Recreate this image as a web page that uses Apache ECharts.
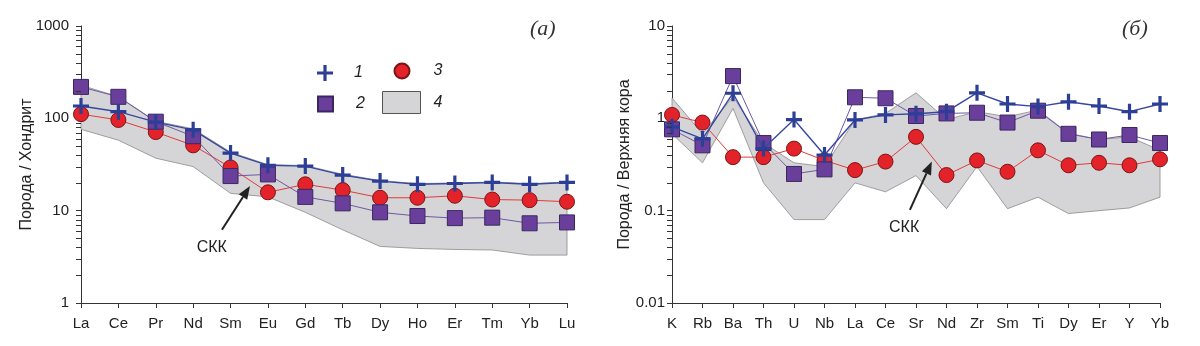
<!DOCTYPE html>
<html>
<head>
<meta charset="utf-8">
<script src="https://cdn.jsdelivr.net/npm/echarts@6/dist/echarts.min.js"></script>
<style>
  html, body { margin: 0; padding: 0; background: #fff; }
  #chart { width: 1200px; height: 346px; }
</style>
</head>
<body>
<div id="chart"></div>
<script>
// Left panel: chondrite-normalised REE
const reeElements = ['La','Ce','Pr','Nd','Sm','Eu','Gd','Tb','Dy','Ho','Er','Tm','Yb','Lu'];
const reeSeries1 = [136, 118, 91, 75, 42, 31, 30.4, 24.3, 20.9, 19.3, 19.7, 20.2, 19.3, 20.2];
const reeSeries2 = [219, 171, 92, 64, 23.7, 24.7, 14.1, 12.0, 9.6, 8.75, 8.3, 8.4, 7.3, 7.46];
const reeSeries3 = [111, 96, 71, 51, 29.4, 15.8, 19.3, 16.7, 13.8, 13.8, 14.5, 13.2, 13.0, 12.5];
const reeFieldLow = [76, 58, 37, 30, 15.4, 14.1, 9.6, 6.2, 4.1, 3.9, 3.8, 3.75, 3.3, 3.3];
const reeFieldHigh = [228, 172, 93, 77, 43, 31.5, 30.8, 24.8, 21.2, 19.6, 20.0, 20.4, 19.6, 20.4];

// Right panel: upper-crust-normalised trace elements
const traceElements = ['K','Rb','Ba','Th','U','Nb','La','Ce','Sr','Nd','Zr','Sm','Ti','Dy','Er','Y','Yb'];
const traceSeries1 = [0.81, 0.6, 1.87, 0.47, 0.97, 0.40, 0.96, 1.09, 1.12, 1.18, 1.89, 1.43, 1.34, 1.51, 1.36, 1.18, 1.43];
const traceSeries2 = [0.76, 0.51, 2.87, 0.54, 0.25, 0.28, 1.69, 1.65, 1.06, 1.13, 1.15, 0.90, 1.21, 0.68, 0.59, 0.66, 0.54];
const traceSeries3 = [1.09, 0.90, 0.38, 0.38, 0.47, 0.35, 0.275, 0.34, 0.63, 0.243, 0.35, 0.264, 0.45, 0.31, 0.33, 0.31, 0.36];
const traceFieldLow = [0.68, 0.33, 1.28, 0.20, 0.08, 0.08, 0.20, 0.16, 0.24, 0.105, 0.30, 0.105, 0.14, 0.093, 0.10, 0.107, 0.14];
const traceFieldHigh = [1.66, 0.68, 1.72, 0.54, 0.33, 0.30, 0.96, 1.13, 1.89, 0.97, 1.18, 1.04, 1.23, 0.69, 0.59, 0.63, 0.45];

// Axis tick labels
const leftTicks = [1, 10, 100, 1000];
const rightTicks = [0.01, 0.1, 1, 10];
const legendNames = ['1', '2', '3', '4'];

const FONT = 'Liberation Sans, Arial, sans-serif';
const TXT = '#222';
const AXIS = '#333';
const PLUS = 'path://M6,0H9V6H15V9H9V15H6V9H0V6H6Z';

const chart = echarts.init(document.getElementById('chart'), null, { renderer: 'canvas' });

// 2..9 times every decade between lo and hi
function decadeMinors(lo, hi) {
  const out = [];
  for (let d = lo; d < hi * 0.999; d *= 10) {
    for (let k = 2; k <= 9; k++) out.push(+(k * d).toPrecision(6));
  }
  return out;
}

function bandSeries(idx, low, high) {
  return {
    name: '4', type: 'custom', xAxisIndex: idx, yAxisIndex: idx, z: 1, silent: true, clip: false,
    itemStyle: { color: '#d5d5d7', borderColor: '#555', borderWidth: 1 },
    data: low.map((v, i) => [i, v, high[i]]),
    encode: { x: 0, y: [1, 2] },
    renderItem: function (params, api) {
      if (params.dataIndex !== 0) return null;
      const pts = [];
      for (let i = 0; i < high.length; i++) pts.push(api.coord([i, high[i]]));
      for (let i = low.length - 1; i >= 0; i--) pts.push(api.coord([i, low[i]]));
      return {
        type: 'polygon', shape: { points: pts },
        style: { fill: '#d5d5d7', stroke: '#8a8a8a', lineWidth: 0.8 }
      };
    }
  };
}

function pointSeries(idx, data) {
  return [
    {
      name: '3', type: 'line', xAxisIndex: idx, yAxisIndex: idx, data: data[2], z: 2,
      symbol: 'circle', symbolSize: 15, lineStyle: { color: '#e23a3a', width: 1 },
      itemStyle: { color: '#e4222a', borderColor: '#7a1515', borderWidth: 1 }
    },
    {
      name: '2', type: 'line', xAxisIndex: idx, yAxisIndex: idx, data: data[1], z: 3,
      symbol: 'rect', symbolSize: 15, lineStyle: { color: '#6f58a6', width: 1 },
      itemStyle: { color: '#6a3f9c', borderColor: '#3a2760', borderWidth: 1 }
    },
    {
      name: '1', type: 'line', xAxisIndex: idx, yAxisIndex: idx, data: data[0], z: 4,
      symbol: PLUS, symbolSize: 16, lineStyle: { color: '#3848a0', width: 1.4 },
      itemStyle: { color: '#2c3e96' }
    }
  ];
}

function xAxisOf(idx, cats) {
  return {
    type: 'category', gridIndex: idx, data: cats, boundaryGap: false,
    axisLine: { lineStyle: { color: AXIS, width: 1 } },
    axisTick: { length: 5, lineStyle: { color: AXIS } },
    axisLabel: { fontFamily: FONT, fontSize: 15, color: TXT, margin: 13 },
    splitLine: { show: false }
  };
}

function yAxisOf(idx, ticks, name, gap, margin) {
  return {
    type: 'log', logBase: 10, gridIndex: idx, min: ticks[0], max: ticks[ticks.length - 1],
    name: name, nameLocation: 'middle', nameGap: gap, nameMoveOverlap: false,
    nameTextStyle: { fontFamily: FONT, fontSize: 16, color: TXT },
    axisLine: { show: true, lineStyle: { color: AXIS, width: 1 } },
    axisTick: { show: true, length: 5, lineStyle: { color: AXIS } },
    axisLabel: {
      fontFamily: FONT, fontSize: 15, color: TXT, margin: margin,
      formatter: v => String(Number((+v).toPrecision(3)))
    },
    splitLine: { show: false }
  };
}

function legendAt(name, left, top, w, h, pad, extra) {
  return Object.assign({
    data: [name], left: left, top: top, padding: 0, itemWidth: w, itemHeight: h,
    selectedMode: false, orient: 'horizontal',
    textStyle: { fontFamily: FONT, fontSize: 16, fontStyle: 'italic', color: TXT, padding: [0, 0, 0, pad] }
  }, extra || {});
}

const option = {
  animation: false,
  backgroundColor: '#fff',
  title: [
    { text: '(а)', left: 530, top: 18, padding: 0,
      textStyle: { fontFamily: 'Liberation Serif, serif', fontStyle: 'italic', fontWeight: 'normal', fontSize: 22, color: '#333' } },
    { text: '(б)', left: 1122, top: 18, padding: 0,
      textStyle: { fontFamily: 'Liberation Serif, serif', fontStyle: 'italic', fontWeight: 'normal', fontSize: 22, color: '#333' } }
  ],
  legend: [
    legendAt(legendNames[0], 317, 65, 16, 16, 16, { data: [{ name: legendNames[0], icon: PLUS }] }),
    legendAt(legendNames[1], 317, 95.5, 15, 15, 18, { data: [{ name: legendNames[1], icon: 'rect' }] }),
    legendAt(legendNames[2], 393.5, 62.5, 15, 15, 19, { data: [{ name: legendNames[2], icon: 'circle' }] }),
    legendAt(legendNames[3], 382, 91, 38, 22, 8, {
      data: [{ name: legendNames[3], icon: 'rect', itemStyle: { color: '#d5d5d7', borderColor: '#555', borderWidth: 1 } }]
    })
  ],
  grid: [
    { left: 81, top: 26, width: 486, height: 277 },
    { left: 672, top: 26, width: 488, height: 277 }
  ],
  xAxis: [xAxisOf(0, reeElements), xAxisOf(1, traceElements)],
  yAxis: [
    yAxisOf(0, leftTicks, 'Порода / Хондрит', 46, 12),
    yAxisOf(1, rightTicks, 'Порода / Верхняя кора', 39, 7)
  ],
  series: [
    bandSeries(0, reeFieldLow, reeFieldHigh),
    bandSeries(1, traceFieldLow, traceFieldHigh)
  ]
    .concat(pointSeries(0, [reeSeries1, reeSeries2, reeSeries3]))
    .concat(pointSeries(1, [traceSeries1, traceSeries2, traceSeries3]))
};

chart.setOption(option);

// Pixel position of a (fractional category index, value) pair on a panel
function toPixel(idx, x, v) {
  const i0 = Math.floor(x);
  const f = x - i0;
  const a = chart.convertToPixel({ xAxisIndex: idx, yAxisIndex: idx }, [i0, v]);
  const b = chart.convertToPixel({ xAxisIndex: idx, yAxisIndex: idx }, [i0 + 1, v]);
  return [a[0] + (b[0] - a[0]) * f, a[1]];
}

// Logarithmic minor ticks along a panel's y axis
function minorTicks(idx, ticks) {
  return decadeMinors(ticks[0], ticks[ticks.length - 1]).map(v => {
    const p = chart.convertToPixel({ xAxisIndex: idx, yAxisIndex: idx }, [0, v]);
    const y = Math.round(p[1]) + 0.5;
    return { type: 'line', silent: true, z: 5,
      shape: { x1: p[0] - 5, y1: y, x2: p[0], y2: y },
      style: { stroke: AXIS, lineWidth: 1 } };
  });
}

// "СКК" callout: label plus arrow pointing at the field
function callout(idx, tail, tip, label) {
  const p0 = toPixel(idx, tail[0], tail[1]);
  const p1 = toPixel(idx, tip[0], tip[1]);
  const pl = toPixel(idx, label[0], label[1]);
  const dx = p1[0] - p0[0], dy = p1[1] - p0[1];
  const len = Math.sqrt(dx * dx + dy * dy);
  const ux = dx / len, uy = dy / len;
  const headLen = 13, headHalf = 5;
  const bx = p1[0] - ux * headLen, by = p1[1] - uy * headLen;
  return [
    { type: 'line', shape: { x1: p0[0], y1: p0[1], x2: bx, y2: by }, style: { stroke: '#222', lineWidth: 2 }, z: 10 },
    { type: 'polygon', shape: { points: [[p1[0], p1[1]], [bx - uy * headHalf, by + ux * headHalf], [bx + uy * headHalf, by - ux * headHalf]] },
      style: { fill: '#222' }, z: 10 },
    { type: 'text', x: pl[0], y: pl[1], style: { text: 'СКК', fontFamily: FONT, fontSize: 16, fill: TXT, align: 'center', verticalAlign: 'middle' }, z: 10 }
  ];
}

chart.setOption({
  graphic: callout(0, [3.77, 6.2], [4.52, 18.5], [3.5, 3.94])
    .concat(callout(1, [7.8, 0.102], [8.52, 0.34], [7.61, 0.065]))
    .concat(minorTicks(0, leftTicks))
    .concat(minorTicks(1, rightTicks))
});
</script>
</body>
</html>
